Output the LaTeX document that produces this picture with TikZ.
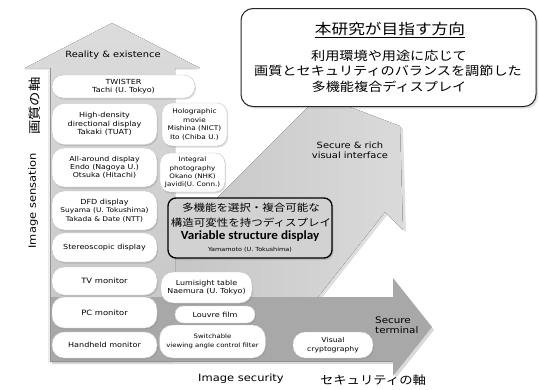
\documentclass[tikz,border=0pt]{standalone}
\usepackage{fontspec}
\newfontfamily\en{DejaVu Sans}[FakeStretch=1.15]
\newfontfamily\jp{Noto Sans CJK JP}[FakeStretch=1.15]
\newfontfamily\vb{Carlito}[FakeStretch=1.05]
\usetikzlibrary{shadows}
\newcommand\fsz[2]{\fontsize{#1}{#2}\selectfont}
\definecolor{harrow}{HTML}{A8A8A8}
\definecolor{varrowtop}{HTML}{DCDCDC}
\definecolor{varrowbot}{HTML}{C4C4C4}
\definecolor{darrowa}{HTML}{C6C6C6}
\definecolor{darrowb}{HTML}{DADADA}
\definecolor{vsdfill}{HTML}{D2D2D2}
\tikzset{
  pill/.style={draw=gray!45, line width=0.4pt, fill=white, align=center, inner sep=0pt,
    drop shadow={opacity=0.3, shadow xshift=1pt, shadow yshift=-1.5pt}},
  lbl/.style={inner sep=0pt, align=center},
}
\begin{document}
\begin{tikzpicture}[x=1pt,y=-1pt]
\useasboundingbox (0,0) rectangle (539,389);
% diagonal arrow
\fill[left color=darrowa, right color=darrowb, drop shadow={opacity=0.25, shadow xshift=3pt, shadow yshift=-2pt}]
  (175,297) -- (175,240) -- (312,103) -- (300,88) -- (400,126) -- (403,230) -- (385,212) -- (318,297) -- cycle;
% vertical arrow
\fill[top color=varrowtop, bottom color=varrowbot, drop shadow={opacity=0.15, shadow xshift=-2pt, shadow yshift=-2pt}]
  (50,361) -- (50,68) -- (25,68) -- (112,23) -- (200,68) -- (175,68) -- (175,361) -- cycle;
% horizontal arrow
\fill[harrow, drop shadow={opacity=0.3, shadow xshift=2pt, shadow yshift=-3pt}]
  (50,297) -- (393,297) -- (393,278) -- (432,327) -- (393,376) -- (393,361) -- (50,361) -- cycle;
\draw[gray!85, line width=0.8pt] (50,68) -- (50,361) -- (393,361);

% left column
\node[pill, rounded corners=11pt, minimum width=143pt, minimum height=23pt, font=\en\fsz{7}{8.5}] (twister) at (123.5,86.5) {TWISTER\\Tachi (U. Tokyo)};
\node[pill, rounded corners=12pt, minimum width=105pt, minimum height=41pt, font=\en\fsz{7}{8.5}] (hd) at (104.5,124) {High-density\\directional display\\Takaki (TUAT)};
\node[pill, rounded corners=12pt, minimum width=105pt, minimum height=39pt, font=\en\fsz{6.8}{8.3}] (allround) at (104.5,167.5) {All-around display\\Endo (Nagoya U.)\\Otsuka (Hitachi)};
\node[pill, rounded corners=12pt, minimum width=105pt, minimum height=39pt, font=\en\fsz{6.5}{8.3}] (dfd) at (104.5,210.5) {{\fsz{7}{8.3}DFD display}\\Suyama (U. Tokushima)\\Takada \& Date (NTT)};
\node[pill, rounded corners=12pt, minimum width=105pt, minimum height=29pt, font=\en\fsz{7}{8.5}] (stereo) at (104.5,247.5) {Stereoscopic display};
\node[pill, rounded corners=12pt, minimum width=105pt, minimum height=28pt, font=\en\fsz{7.3}{8.5}] (tv) at (104.5,281) {TV monitor};
\node[pill, rounded corners=12pt, minimum width=105pt, minimum height=31pt, font=\en\fsz{7.3}{8.5}] (pc) at (104.5,312.5) {PC monitor};
\node[pill, rounded corners=12pt, minimum width=105pt, minimum height=26pt, font=\en\fsz{7}{8.5}] (hand) at (104.5,345) {Handheld monitor};

% second column
\node[pill, rounded corners=10pt, minimum width=65pt, minimum height=43pt, font=\en\fsz{6.4}{8.6}] (holo) at (194.5,124.5) {Holographic\\movie\\Mishina (NICT)\\Ito (Chiba U.)};
\node[pill, rounded corners=10pt, minimum width=65pt, minimum height=39pt, font=\en\fsz{6.2}{8.2}] (integral) at (192.5,172.5) {Integral\\photography\\Okano (NHK)\\Javidi(U. Conn.)};
\node[pill, rounded corners=12pt, minimum width=91pt, minimum height=31pt, font=\en\fsz{6.9}{8.5}] (lumi) at (206.5,287.5) {Lumisight table\\Naemura (U. Tokyo)};
\node[pill, rounded corners=8pt, minimum width=80pt, minimum height=17pt, font=\en\fsz{7}{8.5}] (louvre) at (215,314.5) {Louvre film};
\node[pill, rounded corners=13pt, minimum width=106pt, minimum height=33pt, font=\en\fsz{6}{8.5}] (switch) at (212.5,341.5) {Switchable\\viewing angle control filter};
\node[pill, rounded corners=12pt, minimum width=80pt, minimum height=26pt, font=\en\fsz{6.7}{8.5}] (visual) at (333,345) {Visual\\cryptography};

% variable structure display box
\node[draw=black, line width=1.3pt, rounded corners=8pt, fill=vsdfill, minimum width=164pt, minimum height=60pt,
  drop shadow={opacity=0.3, shadow xshift=1.5pt, shadow yshift=-2pt}] (vsd) at (250,228) {};
\node[lbl, font=\jp\fsz{10}{11}] (vsd1) at (251,208) {多機能を選択・複合可能な};
\node[lbl, font=\jp\fsz{10}{11}] (vsd2) at (251,222.5) {構造可変性を持つディスプレイ};
\node[lbl, font=\vb\bfseries\fsz{12.5}{13}] (vsd3) at (250,236) {Variable structure display};
\node[lbl, font=\en\fsz{5.6}{6}] (vsd4) at (250,249.5) {Yamamoto (U. Tokushima)};

% goal box
\node[draw=black!85, line width=1pt, rounded corners=12pt, fill=white, minimum width=295pt, minimum height=98pt,
  drop shadow={opacity=0.25, shadow xshift=2pt, shadow yshift=-2pt}] (goal) at (388.5,57.5) {};
\node[lbl, font=\jp\fsz{14.5}{16}] (goal1) at (390,30) {\underline{本研究が目指す方向}};
\node[lbl, font=\jp\fsz{12.3}{14}] (goal2) at (389,56) {利用環境や用途に応じて};
\node[lbl, font=\jp\fsz{12.3}{14}] (goal3) at (388,71) {画質とセキュリティのバランスを調節した};
\node[lbl, font=\jp\fsz{12.3}{14}] (goal4) at (389,87) {多機能複合ディスプレイ};

% axis labels
\node[lbl, font=\en\fsz{8.6}{10}] (reality) at (113,55) {Reality \& existence};
\node[lbl, font=\en\fsz{8.6}{10}] (rich) at (350,150.5) {Secure \& rich\\visual interface};
\node[lbl, align=left, anchor=west, font=\en\fsz{9}{10}] (terminal) at (375,325) {Secure\\terminal};
\node[lbl, font=\en\fsz{10}{11}] (imsec) at (241,379) {Image security};
\node[lbl, font=\jp\fsz{11.6}{12}] (secaxis) at (373,380) {セキュリティの軸};
\node[lbl, rotate=90, font=\en\fsz{10}{11}] (imsens) at (33,201) {Image sensation};
\node[lbl, rotate=90, font=\jp\fsz{12.5}{13}] (qaxis) at (35,106) {画質の軸};
\end{tikzpicture}
\end{document}
